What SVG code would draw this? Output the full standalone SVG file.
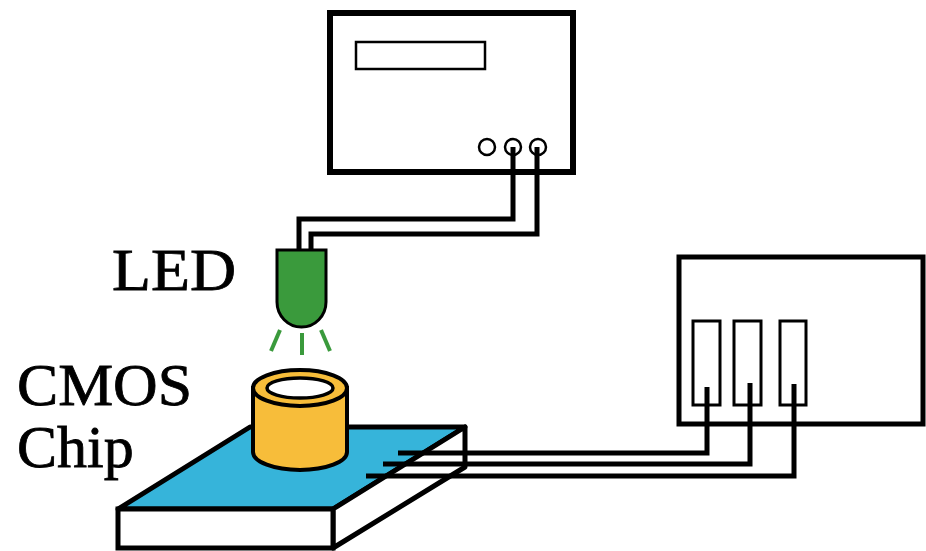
<svg xmlns="http://www.w3.org/2000/svg" width="926" height="551" viewBox="0 0 926 551">
  <style>
    .box { fill: #fff; stroke: #000; }
    .wire { fill: none; stroke: #000; stroke-width: 5; stroke-linejoin: miter; }
    .label { font-family: "Liberation Serif", "Times New Roman", serif; font-size: 60px; fill: #000; stroke: #000; stroke-width: 0.8; }
    .ray { stroke: #3a9a3c; stroke-width: 4; }
  </style>
  <rect width="926" height="551" fill="#fff"/>

  <!-- power supply -->
  <g id="supply">
    <rect class="box" x="330" y="13" width="243" height="159" stroke-width="6"/>
    <rect class="box" x="356" y="42" width="129" height="27" stroke-width="2.5"/>
    <circle class="box" cx="487" cy="147" r="8" stroke-width="2.5"/>
    <circle class="box" cx="513" cy="147" r="8" stroke-width="2.5"/>
    <circle class="box" cx="538" cy="147" r="8" stroke-width="2.5"/>
  </g>

  <!-- readout box -->
  <g id="readout">
    <rect class="box" x="679" y="257" width="244" height="167" stroke-width="5"/>
    <rect class="box" x="693" y="321" width="27" height="84" stroke-width="3"/>
    <rect class="box" x="734" y="321" width="27" height="84" stroke-width="3"/>
    <rect class="box" x="780" y="321" width="26" height="84" stroke-width="3"/>
  </g>

  <!-- CMOS chip board -->
  <g id="chip">
    <polygon points="118,509 250,427 465,427 333,509" fill="#36b4da" stroke="#000" stroke-width="5" stroke-linejoin="round"/>
    <polygon points="333,509 465,427 465,467 333,548" fill="#fff" stroke="#000" stroke-width="5" stroke-linejoin="round"/>
    <rect x="118" y="509" width="215" height="39" fill="#fff" stroke="#000" stroke-width="5"/>
  </g>

  <!-- lens cylinder -->
  <g id="lens">
    <path d="M253,388 V452 A47,18 0 0 0 347,452 V388 Z" fill="#f7bd3a" stroke="#000" stroke-width="4"/>
    <ellipse cx="300" cy="388" rx="47" ry="18" fill="#f7bd3a" stroke="#000" stroke-width="4"/>
    <ellipse cx="300" cy="388" rx="33" ry="10" fill="#fff" stroke="#000" stroke-width="3.5"/>
  </g>

  <!-- LED -->
  <g id="led">
    <path d="M277,250 H326 V302 A24.5,25 0 0 1 277,302 Z" fill="#3a9a3c" stroke="#000" stroke-width="3"/>
    <line class="ray" x1="280" y1="330" x2="271" y2="351"/>
    <line class="ray" x1="302" y1="333" x2="302" y2="355"/>
    <line class="ray" x1="321" y1="330" x2="330" y2="351"/>
  </g>

  <!-- connectors -->
  <g id="connectors">
    <polyline class="wire" points="513,147 513,219 299,219 299,250"/>
    <polyline class="wire" points="537,147 537,234 311,234 311,250"/>
    <polyline class="wire" points="398,453 707,453 707,387"/>
    <polyline class="wire" points="383,464 750,464 750,383"/>
    <polyline class="wire" points="366,476 794,476 794,384"/>
  </g>

  <!-- labels -->
  <g id="labels">
    <text class="label" x="112" y="290" textLength="124" lengthAdjust="spacingAndGlyphs">LED</text>
    <text class="label" x="17" y="405" textLength="175" lengthAdjust="spacingAndGlyphs">CMOS</text>
    <text class="label" x="17" y="467">Chip</text>
  </g>
</svg>
